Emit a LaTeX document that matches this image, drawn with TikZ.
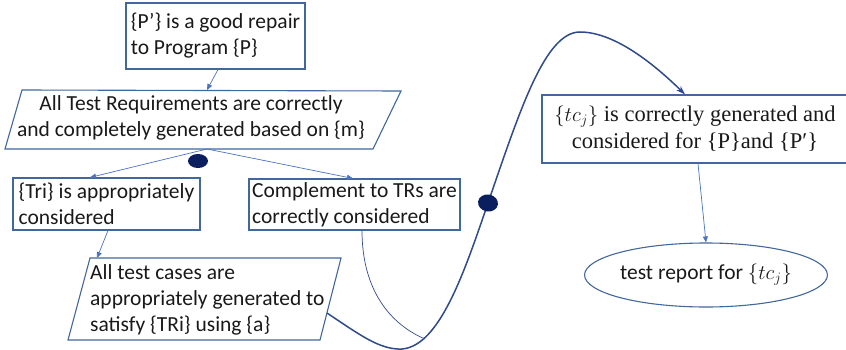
\documentclass[tikz,border=0pt]{standalone}
\usepackage{fontspec}
\setmainfont{Carlito}
\newfontfamily\serifbox{Liberation Serif}
\usetikzlibrary{shapes.geometric,arrows.meta,calc}
\definecolor{boxline}{HTML}{41679B}
\definecolor{arrowline}{HTML}{4A74C0}
\definecolor{curveline}{HTML}{2F4B8A}
\definecolor{navydot}{HTML}{0B1F5E}
\begin{document}
\begin{tikzpicture}[x=1pt,y=-1pt,
  txt/.style={font=\fontsize{21.5}{26}\selectfont, text=black!90},
  box/.style={txt, draw=boxline, line width=1.1pt, rectangle, inner sep=0pt, align=left},
  shapeline/.style={draw=boxline, line width=1.1pt, line join=miter},
  arr/.style={draw=arrowline, line width=0.7pt, -{Triangle[length=6pt,width=5pt]}},
  flow/.style={draw=curveline, line width=1.5pt},
  thinflow/.style={draw=curveline, line width=0.7pt},
  joint/.style={ellipse, fill=navydot, inner sep=0pt, minimum width=20pt, minimum height=14pt}
]
\useasboundingbox (0,0) rectangle (846,350);

% repair statement
\node[box, minimum width=179pt, minimum height=66pt] (repair) at (215.5,36)
  {\{P’\} is a good repair\\to Program \{P\}};

% test requirements (parallelogram)
\coordinate (reqTL) at (22,90);
\coordinate (reqTR) at (401,91);
\coordinate (reqBR) at (373,149);
\coordinate (reqBL) at (5,149);
\coordinate (reqTop) at (207,90);
\coordinate (reqBot) at (207,149);
\draw[shapeline] (reqTL) -- (reqTR) -- (reqBR) -- (reqBL) -- cycle;
\node[txt, align=center] (reqs) at (191,118)
  {All Test Requirements are correctly\\and completely generated based on \{m\}};

% the two branches
\node[box, minimum width=187pt, minimum height=52pt] (tri) at (106.5,204)
  {\{Tri\} is appropriately\\considered};
\node[box, minimum width=211pt, minimum height=51pt] (comp) at (354.5,204.5)
  {Complement to TRs are\\correctly considered};

% test cases (parallelogram)
\coordinate (casTL) at (90,258);
\coordinate (casTR) at (341,258);
\coordinate (casBR) at (320,340);
\coordinate (casBL) at (68,340);
\coordinate (casTop) at (97,258);
\coordinate (casOut) at (327,313);
\draw[shapeline] (casTL) -- (casTR) -- (casBR) -- (casBL) -- cycle;
\node[txt, align=left, anchor=west, inner sep=0pt] (cases) at (90,300)
  {All test cases are\\appropriately generated to\\satisfy \{TRi\} using \{a\}};

% generated test cases and report
\node[draw=boxline, line width=1.1pt, rectangle, inner sep=0pt, minimum width=306pt, minimum height=68pt,
      align=center, text=black!90, font={\fontspec{Liberation Serif}\fontsize{22.5}{27}\selectfont}] (tc) at (695,129)
  {$\{tc_j\}$ is correctly generated and\\considered for \{P\}and \{P′\}};
\node[txt, draw=boxline, line width=1.1pt, ellipse, inner sep=0pt, minimum width=210pt, minimum height=64pt]
  (report) at (706,275) {test report for $\{tc_j\}$};

% connectors
\draw[arr] ([xshift=2.5pt]repair.south) -- (reqTop);
\draw[arr] (reqBot) -- ([xshift=-16.5pt]tri.north);
\draw[arr] (reqBot) -- ([xshift=-1.5pt]comp.north);
\draw[arr] ([xshift=1.5pt]tri.south) -- (casTop);
\draw[arr] ([xshift=3pt]tc.south) -- (report.north);

\coordinate (meet) at (425,339);
\draw[thinflow] ([xshift=7.5pt]comp.south) .. controls (362,292) and (392,325) .. (meet);

\draw[flow, -{Stealth[length=9pt,width=6pt,inset=3pt]}] (casOut)
  .. controls (360,335) and (380,350) .. (402,349)
  .. controls (440,346) and (465,270) .. (488,203)
  .. controls (520,110) and (545,32) .. (580,32)
  .. controls (615,32) and (655,65) .. ([xshift=-10pt]tc.north);

% junction markers
\node[joint] (fork) at (198,161) {};
\node[joint, minimum height=17pt, rotate=-10] (pass) at (488,203) {};
\end{tikzpicture}
\end{document}
